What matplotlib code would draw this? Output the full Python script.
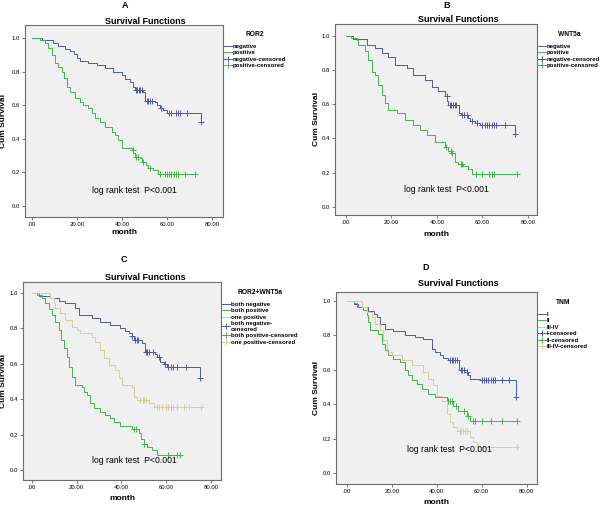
import numpy as np
import matplotlib
matplotlib.use("Agg")
import matplotlib.pyplot as plt
from matplotlib.lines import Line2D

plt.rcParams['font.family'] = ['Liberation Sans', 'DejaVu Sans']

BLUE = '#4a5aa8'
GREEN = '#3fb54c'
TAN = '#d6cd9c'

# ---- panel A : ROR2 ----
a_neg_t = [0, 4.3, 9.5, 11.7, 14.7, 16.9, 18.8, 19.9, 21.3, 25, 28.7, 32.4, 36.1, 39.9, 41.3, 43.6,
           45.1, 45.8, 49.5, 50.2, 54.7, 55.4, 56.9, 58.4, 59.9, 75.1]
a_neg_s = [1.0, 0.988, 0.968, 0.954, 0.934, 0.922, 0.902, 0.879, 0.863, 0.853, 0.839, 0.819, 0.796, 0.78,
           0.756, 0.736, 0.71, 0.69, 0.68, 0.625, 0.617, 0.601, 0.585, 0.571, 0.552, 0.502]
a_neg_c = [46.2, 46.8, 47.5, 48.2, 48.8, 51.0, 51.6, 52.3, 53.5, 57.5, 61, 62, 64, 65, 66, 69, 75.1]
a_pos_t = [0, 3.6, 5.8, 7.3, 8.7, 10.2, 11.7, 13.2, 14.4, 15.4, 16.9, 19.1, 21.3, 22.8, 25, 26.5, 28,
           30.2, 32.4, 35.4, 36.9, 38.4, 39.9, 44.6, 45.1, 45.8, 48, 48.7, 50.5, 51.7, 53.9, 55.8]
a_pos_s = [1.0, 0.988, 0.968, 0.938, 0.899, 0.849, 0.829, 0.8, 0.76, 0.71, 0.68, 0.641, 0.617, 0.601,
           0.581, 0.552, 0.522, 0.498, 0.472, 0.443, 0.423, 0.393, 0.343, 0.333, 0.314, 0.294, 0.284,
           0.264, 0.244, 0.225, 0.215, 0.189]
a_pos_c = [44.8, 46.4, 47.0, 49.5, 52.5, 57, 59, 60, 61, 62, 63, 64, 65, 68, 72.4]

# ---- panel B : WNT5a ----
b_neg_t = [0, 3.2, 9.1, 12.7, 15.7, 18.6, 21.5, 26.7, 29.6, 34.7, 37.7, 40.6, 43.5, 44.5, 45, 49.7,
           50.5, 53.8, 54.5, 56.7, 58.9, 74.3]
b_neg_s = [1.0, 0.982, 0.943, 0.928, 0.898, 0.875, 0.83, 0.81, 0.772, 0.743, 0.703, 0.674, 0.645, 0.616,
           0.596, 0.548, 0.538, 0.522, 0.499, 0.489, 0.476, 0.427]
b_neg_c = [44.3, 45.6, 46.3, 47.0, 47.8, 48.6, 51.2, 51.8, 53.2, 55.5, 57.5, 60, 61, 62, 63, 64, 65,
           66, 70, 74.3]
b_pos_t = [0, 2.2, 4.7, 5.5, 8.4, 9.8, 11.3, 12.7, 14.2, 15.7, 17.1, 18.6, 22.3, 25.9, 29.6, 32.5,
           35.5, 39.1, 43.5, 45, 46.4, 48, 49.4, 51.6, 53.8, 55.3]
b_pos_s = [1.0, 0.986, 0.974, 0.945, 0.908, 0.86, 0.79, 0.772, 0.714, 0.656, 0.606, 0.567, 0.548, 0.509,
           0.48, 0.45, 0.42, 0.382, 0.35, 0.324, 0.314, 0.265, 0.25, 0.237, 0.22, 0.193]
b_pos_c = [44.2, 46.0, 46.8, 50.5, 51.0, 57, 60, 63, 64.2, 65, 75]

# ---- panel C : ROR2+WNT5a ----
c_bn_t = [0, 3, 8, 11.9, 14.9, 19.4, 20.9, 26.8, 30.5, 35, 39.5, 41.7, 43.2, 44.7, 45.4, 49.2, 50.4,
          55.1, 55.9, 57.4, 58.9, 60.3, 75.2]
c_bn_s = [1.0, 0.985, 0.97, 0.956, 0.941, 0.913, 0.876, 0.857, 0.838, 0.819, 0.8, 0.787, 0.772, 0.757,
          0.734, 0.715, 0.668, 0.655, 0.636, 0.612, 0.599, 0.58, 0.518]
c_bn_c = [44.9, 46.2, 46.9, 47.6, 51.0, 51.6, 52.4, 54.2, 57.0, 59.5, 61, 62, 63, 65, 69, 75.2]
c_bp_t = [0, 2.2, 4.5, 6, 7.4, 8.9, 10.4, 11.9, 13.1, 14.2, 15.6, 16.4, 17.9, 19.4, 22.3, 23.1, 24.6,
          26.1, 27.6, 30.5, 32.8, 35, 36.5, 39.5, 44.7, 47.7, 48.9, 49.9, 51.4, 53.6, 55.9]
c_bp_s = [1.0, 0.989, 0.97, 0.942, 0.908, 0.876, 0.838, 0.791, 0.734, 0.687, 0.64, 0.584, 0.527, 0.48,
          0.471, 0.442, 0.424, 0.376, 0.348, 0.329, 0.311, 0.292, 0.273, 0.25, 0.231, 0.207, 0.178,
          0.15, 0.131, 0.112, 0.083]
c_bp_c = [45.6, 46.6, 50.2, 61, 65, 66.3]
c_op_t = [0, 8.2, 9.7, 10.4, 12.7, 14.9, 17.9, 20.1, 21.6, 26.8, 28.3, 30.5, 32, 34.3, 37.2, 38.7,
          40.2, 44.7, 45.4, 46.9, 52.1, 54.4]
c_op_s = [1.0, 0.97, 0.942, 0.913, 0.885, 0.847, 0.81, 0.791, 0.772, 0.753, 0.725, 0.678, 0.631, 0.593,
          0.565, 0.518, 0.48, 0.471, 0.414, 0.395, 0.376, 0.354]
c_op_c = [48.5, 49.5, 50.3, 51.0, 56, 57, 58, 60, 61, 62, 63, 65, 68, 70, 75.5]

# ---- panel D : TNM ----
d_1_t = [0, 3, 5.2, 9.6, 11.9, 13.3, 14.8, 17, 20.7, 25.9, 30.4, 34.1, 37.8, 39.3, 41.5, 43, 45.2,
         49.9, 53.3, 54.1, 54.8, 59.3, 75.1]
d_1_s = [1.0, 0.984, 0.965, 0.942, 0.926, 0.907, 0.868, 0.839, 0.826, 0.8, 0.791, 0.781, 0.723, 0.703,
         0.684, 0.671, 0.655, 0.597, 0.587, 0.568, 0.548, 0.539, 0.442]
d_1_c = [45.9, 46.6, 47.3, 48.1, 48.8, 50.6, 51.3, 52.2, 53.6, 60, 61, 62, 63, 64, 65, 66, 69, 72,
         75.1]
d_2_t = [0, 3, 4.4, 7.4, 8.9, 9.6, 10.4, 14.1, 15.6, 17, 18.5, 20.7, 23.7, 25.9, 27.4, 28.9, 31.1,
         33.3, 36.3, 39.3, 44.4, 47.4, 49.6, 53.3, 54.8]
d_2_s = [1.0, 0.988, 0.965, 0.946, 0.917, 0.878, 0.829, 0.81, 0.752, 0.713, 0.684, 0.665, 0.645, 0.597,
         0.568, 0.539, 0.519, 0.49, 0.461, 0.442, 0.422, 0.393, 0.364, 0.335, 0.306]
d_2_c = [44.9, 46.0, 47.0, 48.5, 52.0, 54.0, 56, 57, 60, 64, 69, 75.5]
d_3_t = [0, 6.7, 8.9, 11.1, 12.6, 14.8, 16.3, 17.8, 20, 24.4, 28.9, 34.1, 36.3, 38.5, 40, 42.2, 44.4,
         45.9, 47.4, 48.9, 54.8, 56.3, 57.8]
d_3_s = [1.0, 0.965, 0.936, 0.907, 0.868, 0.829, 0.771, 0.703, 0.684, 0.655, 0.626, 0.587, 0.548,
         0.51, 0.452, 0.422, 0.345, 0.297, 0.267, 0.248, 0.209, 0.18, 0.151]
d_3_c = [50.2, 51.0, 51.8, 52.6, 53.4, 58.5, 75.5]


def surv_at(t, s, x):
    idx = np.searchsorted(t, x, side='right') - 1
    return np.asarray(s)[idx]


def km(ax, t, s, cens, color):
    end = max(t[-1], max(cens))
    tt = list(t) + [end]
    ss = list(s) + [s[-1]]
    ax.step(tt, ss, where='post', color=color, lw=0.7)
    ax.plot(cens, surv_at(t, s, np.asarray(cens)), ls='none', marker='+', ms=4,
            mew=0.7, color=color)


W, H = 600, 505
fig = plt.figure(figsize=(W / 100, H / 100), dpi=100)


def px(x, y):
    return x / W, 1 - y / H


def panel(box, letter, letter_xy, title_xy, curves, leg_title, labels, xlim, ylim,
          txt_xy, leg_xy, ylab_x, xlab_y):
    l, r, t, b = box
    ax = fig.add_axes([l / W, 1 - b / H, (r - l) / W, (b - t) / H])
    ax.set_facecolor('#f0f0f0')
    for sp in ax.spines.values():
        sp.set_color('#6d6d6d')
        sp.set_linewidth(0.8)
    for tt, s, c, col in curves:
        km(ax, tt, s, c, col)
    ax.set_xlim(*xlim)
    ax.set_ylim(*ylim)
    ax.set_xticks([0, 20, 40, 60, 80])
    ax.set_xticklabels(['.00', '20.00', '40.00', '60.00', '80.00'])
    ax.set_yticks([0, 0.2, 0.4, 0.6, 0.8, 1.0])
    ax.set_yticklabels(['0.0', '0.2', '0.4', '0.6', '0.8', '1.0'])
    ax.tick_params(labelsize=4.3, length=2, width=0.5, color='#444444', pad=1.5)

    fig.text(*px(*letter_xy), letter, ha='center', va='center', fontsize=6.5,
             fontweight='bold')
    fig.text(*px(*title_xy), 'Survival Functions', ha='center', va='center',
             fontsize=6.5, fontweight='bold')
    fig.text(*px(ylab_x, (t + b) / 2), 'Cum Survival', ha='center', va='center',
             rotation=90, fontsize=6, fontweight='bold')
    fig.text(*px((l + r) / 2, xlab_y), 'month', ha='center', va='center',
             fontsize=6, fontweight='bold')
    ax.text(txt_xy[0], txt_xy[1], 'log rank test  P<0.001', fontsize=6.2)

    handles = [Line2D([], [], color=col, lw=0.7) for _, _, _, col in curves]
    handles += [Line2D([], [], color=col, lw=0.7, marker='+', ms=4, mew=0.7)
                for _, _, _, col in curves]
    leg = ax.legend(handles, labels, title=leg_title, loc='upper left',
                    bbox_to_anchor=px(*leg_xy), bbox_transform=fig.transFigure,
                    frameon=False, fontsize=4.3, title_fontsize=4.8,
                    handlelength=1.3, handletextpad=0.2, labelspacing=0.22,
                    borderpad=0, borderaxespad=0)
    leg._legend_box.sep = 4
    for txt in leg.get_texts():
        txt.set_fontweight('bold')
    leg.get_title().set_fontweight('bold')
    return ax


panel((25, 223, 25, 217), 'A', (125, 5), (145, 22),
      [(a_neg_t, a_neg_s, a_neg_c, BLUE), (a_pos_t, a_pos_s, a_pos_c, GREEN)],
      'ROR2', ['negative', 'positive', 'negative-censored', 'positive-censored'],
      (-3.1, 84.9), (-0.065, 1.077), (26.7, 0.075), (224, 31), 4, 233)

panel((335, 537, 24, 215), 'B', (447, 5), (458, 20),
      [(b_neg_t, b_neg_s, b_neg_c, BLUE), (b_pos_t, b_pos_s, b_pos_c, GREEN)],
      'WNT5a', ['negative', 'positive', 'negative-censored', 'positive-censored'],
      (-4.8, 84.0), (-0.047, 1.068), (25.5, 0.085), (538, 31), 317, 234)

panel((23, 221, 282, 480), 'C', (124, 259), (145, 277),
      [(c_bn_t, c_bn_s, c_bn_c, BLUE), (c_bp_t, c_bp_s, c_bp_c, GREEN),
       (c_op_t, c_op_s, c_op_c, TAN)],
      'ROR2+WNT5a', ['both negative', 'both positive', 'one positive',
                     'both negative-\ncensored', 'both positive-censored',
                     'one positive-censored'],
      (-4.0, 84.5), (-0.056, 1.062), (26.8, 0.04), (222, 289), 4, 498)

panel((336, 537, 292, 484), 'D', (426, 268), (458, 283),
      [(d_1_t, d_1_s, d_1_c, BLUE), (d_2_t, d_2_s, d_2_c, GREEN),
       (d_3_t, d_3_s, d_3_c, TAN)],
      'TNM', ['I', 'II', 'III-IV', 'I-censored', 'II-censored', 'III-IV-censored'],
      (-4.8, 84.6), (-0.061, 1.052), (26.8, 0.125), (538, 299), 317, 502)

fig.savefig('out.png', dpi=100)
